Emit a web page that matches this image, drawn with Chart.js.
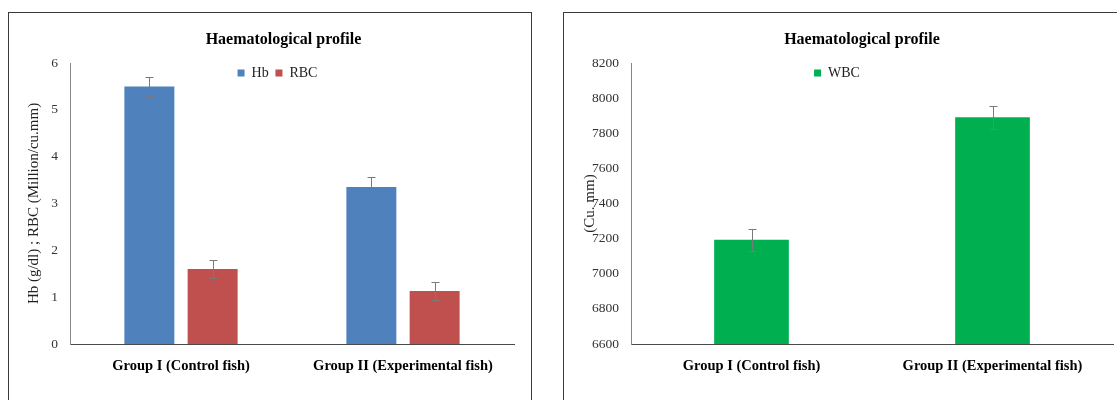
<!DOCTYPE html>
<html>
<head>
<meta charset="utf-8">
<script src="https://cdn.jsdelivr.net/npm/chart.js@4"></script>
<style>
  html, body { margin:0; padding:0; background:#fff; width:1117px; height:400px; overflow:hidden; }
  .panel { position:absolute; border:1px solid #3a3a3a; box-sizing:content-box; background:#fff; }
  #p1 { left:8px; top:12px; width:522px; height:400px; }
  #p2 { left:563px; top:12px; width:600px; height:400px; }
  canvas { position:absolute; }
  #c1 { left:9px; top:13px; }
  #c2 { left:564px; top:13px; }
</style>
</head>
<body>
<div class="panel" id="p1"></div>
<div class="panel" id="p2"></div>
<canvas id="c1" width="522" height="387" style="width:522px;height:387px"></canvas>
<canvas id="c2" width="553" height="387" style="width:553px;height:387px"></canvas>
<script>
// ---- data ----
const categories = ['Group I (Control fish)', 'Group II (Experimental fish)'];
const chartTitle = 'Haematological profile';
const hbValues = [5.5, 3.35];
const hbErrors = [0.2, 0.22];
const rbcValues = [1.6, 1.13];
const rbcErrors = [0.2, 0.2];
const wbcValues = [7193, 7891];
const wbcErrors = [61, 64];
const leftAxisTitle = 'Hb (g/dl) ; RBC (Million/cu.mm)';
const rightAxisTitle = '(Cu. mm)';
const leftTicks = { min: 0, max: 6, step: 1 };
const rightTicks = { min: 6600, max: 8200, step: 200 };

const SERIF = "'Liberation Serif', 'Times New Roman', serif";

// error bar plugin
const errorBars = {
  id: 'errorBars',
  afterDatasetsDraw(chart) {
    const ctx = chart.ctx;
    const y = chart.scales.y;
    chart.data.datasets.forEach((ds, di) => {
      if (!ds.errors) return;
      const meta = chart.getDatasetMeta(di);
      meta.data.forEach((bar, i) => {
        const v = ds.data[i], e = ds.errors[i];
        const yt = Math.round(y.getPixelForValue(v + e)) + 0.5;
        const yb = Math.round(y.getPixelForValue(v - e)) + 0.5;
        const x = Math.round(bar.x) + 0.5;
        ctx.save();
        ctx.strokeStyle = '#7a7a7a';
        ctx.lineWidth = 1;
        ctx.beginPath();
        ctx.moveTo(x, yt); ctx.lineTo(x, yb);
        ctx.moveTo(x - 4, yt); ctx.lineTo(x + 4, yt);
        ctx.moveTo(x - 4, yb); ctx.lineTo(x + 4, yb);
        ctx.stroke();
        ctx.restore();
      });
    });
  }
};

// shift title / legend blocks after layout
const shiftBoxes = {
  id: 'shiftBoxes',
  afterLayout(chart, args, opts) {
    const t = chart.titleBlock, l = chart.legend;
    if (t) {
      t.left += opts.titleDx; t.right += opts.titleDx;
      t.top += opts.titleDy; t.bottom += opts.titleDy;
    }
    if (l) {
      l.left += opts.legendDx; l.right += opts.legendDx;
      l.top += opts.legendDy; l.bottom += opts.legendDy;
    }
  }
};

function makeOptions(cfg) {
  return {
    responsive: false,
    animation: false,
    devicePixelRatio: 1,
    layout: { padding: { left: 0, right: cfg.padRight, top: 0, bottom: 0 } },
    plugins: {
      title: {
        display: true,
        text: chartTitle,
        color: '#000',
        font: { family: SERIF, size: 16, weight: 'bold', lineHeight: 1.2 },
        padding: 0
      },
      legend: {
        display: true,
        position: 'top',
        align: 'center',
        labels: {
          boxWidth: 7, boxHeight: 7, padding: 6.8,
          color: '#222',
          font: { family: SERIF, size: 14 }
        }
      },
      tooltip: { enabled: false },
      shiftBoxes: { titleDx: cfg.titleDx, titleDy: 17, legendDx: cfg.legendDx, legendDy: 27 }
    },
    scales: {
      x: {
        grid: { display: false, drawTicks: false },
        border: { display: true, color: '#4a4a4a', width: 1 },
        ticks: { color: '#000', padding: 14, font: { family: SERIF, size: 14.5, weight: 'bold' }, maxRotation: 0 },
        afterFit(s) { s.height = 56; }
      },
      y: {
        min: cfg.ticks.min, max: cfg.ticks.max,
        grid: { display: false, drawTicks: false },
        border: { display: true, color: '#868686', width: 1 },
        ticks: { stepSize: cfg.ticks.step, color: '#333', padding: 12, font: { family: SERIF, size: 13.5 },
                 callback: (v) => String(v) },
        title: { display: true, text: cfg.axisTitle, color: '#222', font: { family: SERIF, size: 15 }, padding: { top: cfg.titlePad, bottom: 0 } },
        afterFit(s) { s.width = cfg.yWidth; }
      }
    }
  };
}

new Chart(document.getElementById('c1'), {
  type: 'bar',
  data: {
    labels: categories,
    datasets: [
      { label: 'Hb', data: hbValues, errors: hbErrors, backgroundColor: '#4f81bd', borderWidth: 0, categoryPercentage: 0.57, barPercentage: 0.79 },
      { label: 'RBC', data: rbcValues, errors: rbcErrors, backgroundColor: '#c0504d', borderWidth: 0, categoryPercentage: 0.57, barPercentage: 0.79 }
    ]
  },
  options: makeOptions({ padRight: 17, yWidth: 61, ticks: leftTicks, axisTitle: leftAxisTitle, titlePad: 16, titleDx: 22, legendDx: 16 }),
  plugins: [errorBars, shiftBoxes]
});

new Chart(document.getElementById('c2'), {
  type: 'bar',
  data: {
    labels: categories,
    datasets: [
      { label: 'WBC', data: wbcValues, errors: wbcErrors, backgroundColor: '#00b050', borderWidth: 0, categoryPercentage: 0.62, barPercentage: 0.5 }
    ]
  },
  options: makeOptions({ padRight: 4, yWidth: 67, ticks: rightTicks, axisTitle: rightAxisTitle, titlePad: 17, titleDx: 23.5, legendDx: -1.5 }),
  plugins: [errorBars, shiftBoxes]
});
</script>
</body>
</html>
